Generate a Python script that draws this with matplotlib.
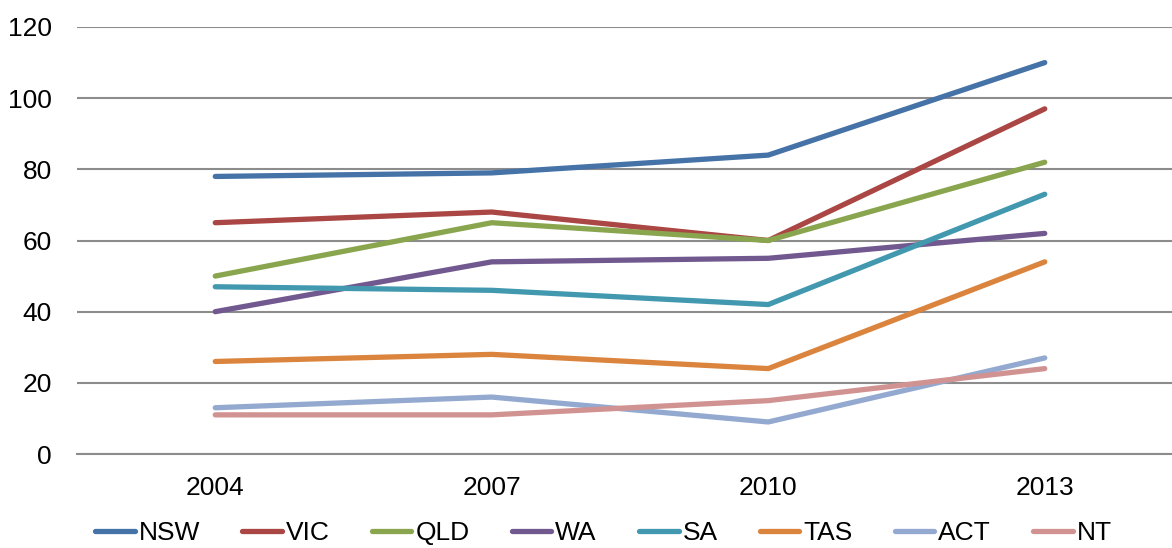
import numpy as np
import matplotlib.pyplot as plt

plt.rcParams['font.family'] = ['Liberation Sans', 'DejaVu Sans']

years = ['2004', '2007', '2010', '2013']
states = ['NSW', 'VIC', 'QLD', 'WA', 'SA', 'TAS', 'ACT', 'NT']
nsw = [78, 79, 84, 110]
vic = [65, 68, 60, 97]
qld = [50, 65, 60, 82]
wa = [40, 54, 55, 62]
sa = [47, 46, 42, 73]
tas = [26, 28, 24, 54]
act = [13, 16, 9, 27]
nt = [11, 11, 15, 24]
series = [nsw, vic, qld, wa, sa, tas, act, nt]
colors = ['#4572A7', '#AA4643', '#89A54E', '#71588F',
          '#4198AF', '#DB843D', '#93A9CF', '#D19392']

fig = plt.figure(figsize=(11.72, 5.48), dpi=100)
ax = fig.add_axes([77 / 1172, 94 / 548, 1106 / 1172, 427 / 548])

x = np.arange(len(years))
for name, vals, c in zip(states, series, colors):
    ax.plot(x, vals, color=c, lw=3.8, solid_capstyle='round',
            solid_joinstyle='round', label=name)

ax.set_xlim(-0.5, 3.5)
ax.set_ylim(0, 120)
ax.set_yticks(range(0, 121, 20))
ax.set_xticks(x)
ax.set_xticklabels(years)
ax.yaxis.grid(True, color='#8c8c8c', lw=1.5)
ax.set_axisbelow(True)
for s in ['top', 'right', 'left']:
    ax.spines[s].set_visible(False)
ax.spines['bottom'].set_color('#8c8c8c')
ax.spines['bottom'].set_linewidth(1.5)
ax.tick_params(length=0, labelsize=19, pad=16)
ax.tick_params(axis='y', pad=18)

fig.legend(loc='lower center', bbox_to_anchor=(0.515, -0.038), ncol=8,
           frameon=False, fontsize=19, handlelength=1.5, handletextpad=0.15,
           columnspacing=1.6)

fig.savefig('out.png', dpi=100)
